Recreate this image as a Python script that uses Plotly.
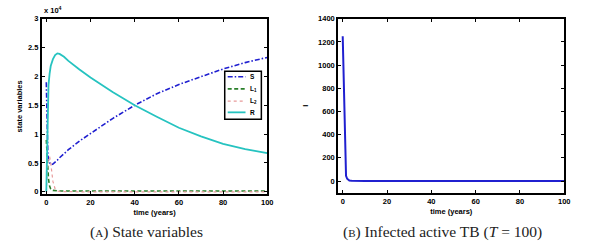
import plotly.graph_objects as go

# ---- data ----
t_state = [0, 0.3, 0.7, 1, 1.5, 2, 3, 4, 5, 6, 8, 10, 15, 20, 30, 40, 50, 60, 70, 80, 90, 100]
S  = [19000, 10000, 6500, 5500, 5000, 4700, 4800, 5100, 5500, 5900, 6600, 7300, 8800, 10100, 12700, 15000, 17000, 18600, 20000, 21300, 22400, 23300]
L1 = [9000, 6000, 3500, 2200, 1000, 500, 250, 200, 150, 150, 150, 150, 150, 150, 150, 150, 150, 150, 150, 150, 150, 150]
L2 = [0, 3000, 5200, 6000, 6100, 5000, 1800, 500, 150, 50, 20, 10, 0, 0, 0, 0, 0, 0, 0, 0, 0, 0]
R  = [0, 8000, 16000, 18500, 20500, 21800, 23000, 23700, 24000, 23900, 23400, 22700, 21200, 19800, 17300, 15000, 13000, 11100, 9600, 8300, 7400, 6700]

t_I = [0, 0.3, 0.6, 0.9, 1.2, 1.5, 2, 2.5, 3, 4, 5, 10, 20, 40, 60, 80, 100]
I   = [1250, 950, 650, 350, 100, 45, 20, 10, 5, 2, 1, 0.3, 0, 0, 0, 0, 0]

series_names = ["S", "L<sub>1</sub>", "L<sub>2</sub>", "R"]
series_colors = ["#1f1fd0", "#2a7f2a", "#e89a9a", "#26c3c0"]
series_dash = ["5px,2px,1.5px,2px", "4px,2.5px", "dot", "solid"]
series_width = [1.6, 1.6, 1.2, 1.8]

x_ticks = [0, 20, 40, 60, 80, 100]
y1_ticks = [0, 5000, 10000, 15000, 20000, 25000, 30000]
y1_ticktext = ["0", "0.5", "1", "1.5", "2", "2.5", "3"]
y2_ticks = [0, 200, 400, 600, 800, 1000, 1200, 1400]
y2_ticktext = [str(v) for v in y2_ticks]

tickfont = dict(family="Arial, Liberation Sans, sans-serif", size=7.5, color="black", weight="bold")
legfont = dict(family="Arial, Liberation Sans, sans-serif", size=6.5, color="black", weight="bold")
capfont = dict(family="Liberation Serif, DejaVu Serif, serif", size=15.5, color="#222")

fig = go.Figure()
for name, ys, col, dash, w in zip(series_names, [S, L1, L2, R], series_colors, series_dash, series_width):
    fig.add_trace(go.Scatter(x=t_state, y=ys, name=name, mode="lines", showlegend=False,
                             line=dict(color=col, width=w, dash=dash), xaxis="x", yaxis="y"))
fig.add_trace(go.Scatter(x=t_I, y=I, name="I", mode="lines", showlegend=False,
                         line=dict(color="#2020d0", width=2), xaxis="x2", yaxis="y2"))

ax_common = dict(showline=True, linecolor="black", linewidth=2, mirror="ticks",
                 ticks="inside", ticklen=3, tickcolor="black", tickwidth=1,
                 showgrid=False, zeroline=False, tickfont=tickfont, ticklabeloverflow="allow")

W, H = 600, 251
# legend box (paper pixels)
leg_x0, leg_x1, leg_y0, leg_y1 = 227, 264, 69, 118
leg_rows = [74.5, 87, 99.5, 111]

shapes = [dict(type="rect", xref="paper", yref="paper",
               x0=leg_x0 / W, x1=leg_x1 / W, y0=1 - leg_y1 / H, y1=1 - leg_y0 / H,
               line=dict(color="black", width=1.5), fillcolor="white", layer="above")]
annotations = []
for yrow, name, col, dash, w in zip(leg_rows, series_names, series_colors, series_dash, series_width):
    shapes.append(dict(type="line", xref="paper", yref="paper",
                       x0=230 / W, x1=248 / W, y0=1 - yrow / H, y1=1 - yrow / H,
                       line=dict(color=col, width=w, dash=dash), layer="above"))
    annotations.append(dict(text=name, x=250 / W, y=1 - yrow / H, xref="paper", yref="paper",
                            xanchor="left", yanchor="middle", showarrow=False, font=legfont))

annotations += [
    dict(text="x 10<sup>4</sup>", x=0.0705, y=0.945, xref="paper", yref="paper",
         xanchor="left", yanchor="bottom", showarrow=False, font=tickfont),
    dict(text="(<span style='font-size:11px'>A</span>) State variables", x=148 / W, y=1 - 234 / H,
         xref="paper", yref="paper", showarrow=False, font=capfont, xanchor="center", yanchor="middle"),
    dict(text="(<span style='font-size:11px'>B</span>) Infected active TB (<i>T</i> = 100)",
         x=447 / W, y=1 - 234 / H, xref="paper", yref="paper", showarrow=False,
         xanchor="center", yanchor="middle", font=capfont),
]

fig.update_layout(
    width=W, height=H,
    margin=dict(l=0, r=0, t=0, b=0),
    paper_bgcolor="white", plot_bgcolor="white",
    xaxis=dict(domain=[0.0705, 0.45], range=[-2, 100.01], tickvals=x_ticks, anchor="y",
               title=dict(text="time (years)", font=tickfont, standoff=4), **ax_common),
    yaxis=dict(domain=[0.224, 0.940], range=[-400, 30010], tickvals=y1_ticks, ticktext=y1_ticktext,
               anchor="x", title=dict(text="state variables", font=tickfont, standoff=4), **ax_common),
    xaxis2=dict(domain=[0.5695, 0.95], range=[-2, 100.01], tickvals=x_ticks, anchor="y2",
                title=dict(text="time (years)", font=tickfont, standoff=4), **ax_common),
    yaxis2=dict(domain=[0.230, 0.940], range=[-100, 1400.5], tickvals=y2_ticks, ticktext=y2_ticktext,
                anchor="x2", title=dict(text="I", font=tickfont, standoff=8), **ax_common),
    showlegend=False,
    shapes=shapes,
    annotations=annotations,
)

fig.write_html("out.html", config={"displayModeBar": False},
               post_script="document.body.style.margin='0';document.body.style.padding='0';")
